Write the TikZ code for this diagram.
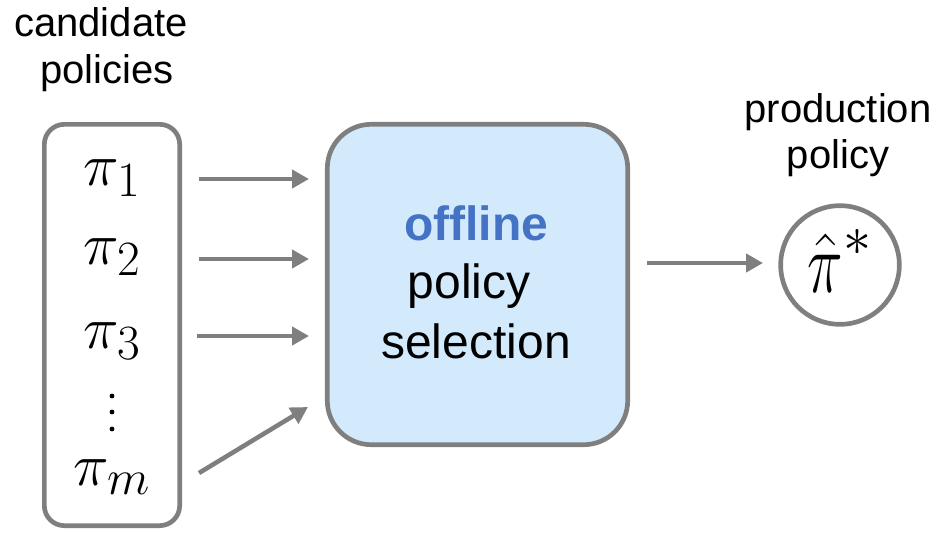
\RequirePackage{fix-cm}
\documentclass[tikz,border=0pt]{standalone}
\usepackage{graphicx}
\usepackage{fontspec}
\setmainfont{Liberation Sans}
\usetikzlibrary{arrows.meta}
\DeclareMathSizes{45}{45}{37}{30}
\definecolor{edgegray}{HTML}{7F7F7F}
\definecolor{boxblue}{HTML}{D2EAFB}
\definecolor{hiblue}{HTML}{4472C4}
\tikzset{
  frame/.style={draw=edgegray, line width=3.5pt, rectangle},
  flow/.style={draw=edgegray, line width=3.4pt,
    -{Triangle[length=12.75pt, width=13.5pt]}},
  caption/.style={anchor=base, inner sep=0pt, font=\fontsize{30}{36}\selectfont},
  sym/.style={anchor=base, inner sep=0pt, font=\fontsize{45}{50}\selectfont},
  boxtext/.style={anchor=base, inner sep=0pt, font=\fontsize{36}{43}\selectfont},
  dotmark/.style={circle, fill=black, inner sep=0pt, minimum size=3.6pt}
}
\begin{document}
\begin{tikzpicture}[x=0.75pt, y=-0.75pt]
\useasboundingbox (0,0) rectangle (939,532);

% candidate policies column
\node[caption] (capA) at (101,36) {candidate};
\node[caption] (capB) at (107,83) {policies};
\node[frame, rounded corners=15pt, minimum width=101.5pt, minimum height=301pt]
  (lbox) at (112,325) {};
\node[sym] (p1) at (112,185) {$\pi_1$};
\node[sym] (p2) at (112,264) {$\pi_2$};
\node[sym] (p3) at (112,348) {$\pi_3$};
% vertical ellipsis
\node[dotmark] (d1) at (112,396) {};
\node[dotmark] (d2) at (112,412) {};
\node[dotmark] (d3) at (112,429) {};
\node[sym] (pm) at (112,485) {$\pi_m$};

% selection box
\node[frame, fill=boxblue, rounded corners=33pt, minimum width=225.3pt,
  minimum height=240.3pt] (sel) at (477.5,284.5) {};
\node[boxtext, text=hiblue, font=\fontsize{36}{43}\selectfont\bfseries]
  (t1) at (476,240) {offline};
\node[boxtext] (t2) at (469,298) {policy};
\node[boxtext] (t3) at (476,358) {selection};

% production policy
\node[caption] (capC) at (838,122) {production};
\node[caption] (capD) at (838,168) {policy};
\node[frame, circle, minimum size=89pt] (out) at (840,265) {};
\node[sym, font=\fontsize{60}{60}\selectfont] (ps) at (840,292)
  {$\hat{\scalebox{0.75}[1.08]{$\pi$}}^{*}$};

% arrow end points
\coordinate (a1s) at (199,179); \coordinate (a1e) at (309,179);
\coordinate (a2s) at (199,259); \coordinate (a2e) at (309,259);
\coordinate (a3s) at (197,336); \coordinate (a3e) at (309,336);
\coordinate (a4s) at (199,473); \coordinate (a4e) at (308,407);
\coordinate (a5s) at (647,263); \coordinate (a5e) at (763,263);

\draw[flow] (a1s) -- (a1e);
\draw[flow] (a2s) -- (a2e);
\draw[flow] (a3s) -- (a3e);
\draw[flow] (a4s) -- (a4e);
\draw[flow] (a5s) -- (a5e);
\end{tikzpicture}
\end{document}
